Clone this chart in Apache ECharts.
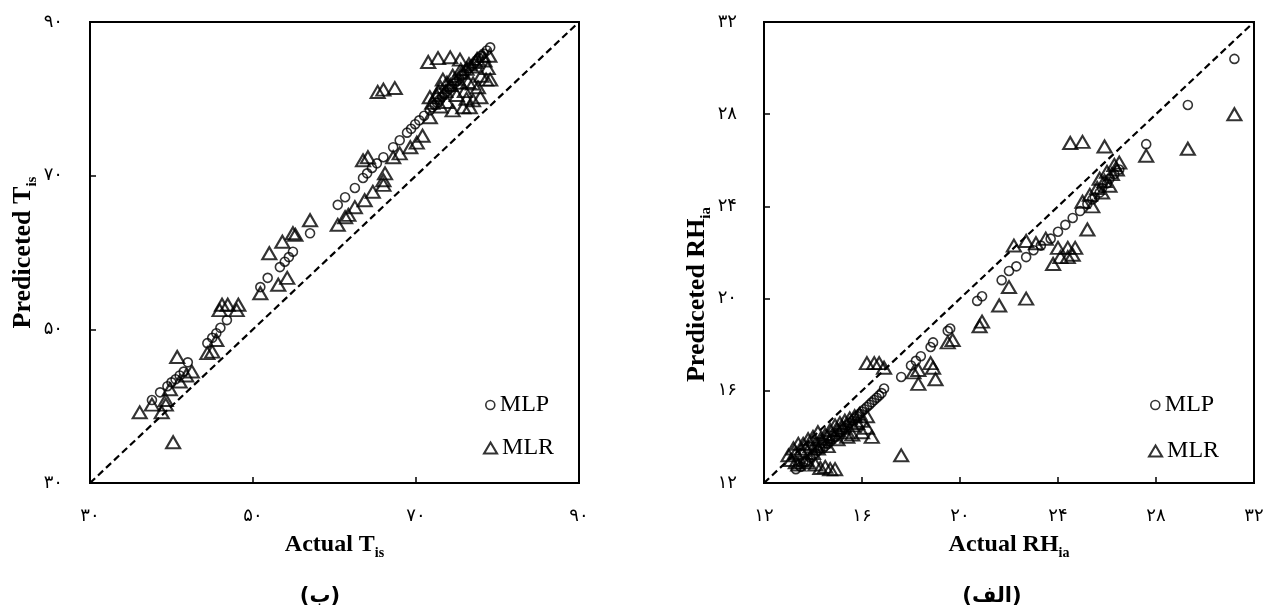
<!DOCTYPE html>
<html>
<head>
<meta charset="utf-8">
<script src="https://cdn.jsdelivr.net/npm/echarts@6/dist/echarts.min.js"></script>
<style>
  html, body { margin: 0; padding: 0; background: #fff; }
  #chart { width: 1268px; height: 613px; }
</style>
</head>
<body>
<div id="chart"></div>
<script>
// (ب) دمای Tis : [actual, predicted]
const mlpT = [
  [37.6, 40.8], [38.6, 41.8], [39.5, 42.6], [40.0, 43.1], [40.5, 43.5], [41.0, 44.0],
  [41.5, 44.5], [42.0, 45.7], [44.4, 48.2], [45.0, 48.9], [45.5, 49.5], [46.0, 50.2],
  [46.8, 51.2], [50.9, 55.5], [51.8, 56.7], [53.3, 58.1], [53.9, 58.8], [54.4, 59.4],
  [54.9, 60.1], [57.0, 62.5], [60.4, 66.2], [61.3, 67.2], [62.5, 68.4], [63.5, 69.7],
  [64.0, 70.3], [64.6, 71.0], [65.2, 71.6], [66.0, 72.4], [67.2, 73.7], [68.0, 74.6],
  [68.9, 75.6], [69.4, 76.1], [69.9, 76.7], [70.4, 77.2], [71.0, 77.8], [71.7, 78.5],
  [72.3, 79.2], [72.9, 79.9], [73.5, 80.6], [74.1, 81.3], [74.7, 82.0], [75.3, 82.6],
  [75.9, 83.3], [76.5, 84.0], [77.1, 84.6], [77.7, 85.3], [78.3, 85.9], [79.1, 86.7],
  [72.0, 78.9], [72.6, 79.5], [73.2, 80.3], [73.8, 81.0], [74.4, 81.6], [75.0, 82.3],
  [75.6, 83.0], [76.2, 83.6], [76.8, 84.3], [77.4, 85.0], [78.0, 85.6], [78.7, 86.3]
];
const mlrT = [
  [36.1, 39.2], [37.6, 40.2], [38.8, 39.2], [39.3, 40.8], [39.3, 40.2], [39.8, 42.2],
  [40.7, 46.4], [40.2, 35.3], [41.0, 43.2], [41.8, 44.0], [42.5, 44.5], [44.4, 46.9],
  [45.0, 47.1], [45.5, 48.6], [46.2, 53.2], [46.9, 53.2], [48.2, 53.2], [45.9, 52.5],
  [48.0, 52.5], [50.9, 54.7], [53.1, 55.8], [54.2, 56.7], [52.0, 59.9], [53.6, 61.4],
  [54.9, 62.5], [55.2, 62.3], [57.0, 64.2], [60.4, 63.6], [61.3, 64.6], [61.7, 64.9],
  [62.5, 65.9], [63.7, 66.8], [64.7, 67.9], [66.0, 68.8], [63.5, 72.0], [64.1, 72.4],
  [66.0, 69.4], [66.2, 70.3], [67.2, 72.4], [68.0, 72.9], [69.3, 73.7], [70.1, 74.3],
  [70.8, 75.2], [71.7, 77.6], [71.7, 80.2], [65.3, 80.9], [66.0, 81.2], [67.4, 81.4],
  [71.5, 84.8], [72.7, 85.3], [74.2, 85.4], [75.4, 85.1], [72.5, 80.5], [73.0, 81.5],
  [73.3, 82.5], [73.8, 82.1], [74.5, 78.5], [75.8, 78.9], [76.6, 78.9], [77.0, 79.8],
  [77.9, 80.2], [79.1, 82.5], [75.4, 82.1], [76.4, 82.2], [74.5, 83.0], [75.5, 83.8],
  [76.5, 84.5], [77.5, 85.2], [78.2, 85.6], [76.0, 81.0], [77.0, 82.0], [78.0, 83.0],
  [78.8, 84.0], [72.0, 79.5], [72.8, 80.8], [73.6, 81.0], [74.2, 81.8], [74.8, 82.6],
  [75.6, 83.4], [76.2, 83.9], [76.8, 84.2], [77.3, 84.8], [78.4, 85.0], [79.0, 85.6],
  [77.6, 81.5], [78.6, 82.5], [73.0, 79.0], [73.8, 79.6], [75.0, 80.5], [76.2, 80.0]
];
// (الف) رطوبت RHia
const mlpRH = [
  [13.3, 12.6], [13.5, 12.7], [13.7, 12.9], [13.9, 13.1], [14.1, 13.3], [14.3, 13.5],
  [14.5, 13.6], [14.7, 13.8], [14.9, 14.0], [15.1, 14.2], [15.3, 14.4], [15.5, 14.6],
  [15.7, 14.8], [15.9, 15.0], [16.1, 15.2], [16.3, 15.4], [16.5, 15.6], [16.7, 15.8],
  [16.9, 16.1], [17.6, 16.6], [18.0, 17.1], [18.2, 17.3], [18.4, 17.5], [18.8, 17.9],
  [18.9, 18.1], [19.5, 18.6], [19.6, 18.7], [20.7, 19.9], [20.9, 20.1], [21.7, 20.8],
  [22.0, 21.2], [22.3, 21.4], [22.7, 21.8], [23.0, 22.1], [23.3, 22.3], [23.7, 22.6],
  [24.0, 22.9], [24.3, 23.2], [24.6, 23.5], [24.9, 23.8], [25.2, 24.1], [25.5, 24.4],
  [25.8, 24.8], [26.1, 25.2], [27.6, 26.7], [29.3, 28.4], [31.2, 30.4],
  [13.4, 12.8], [13.6, 12.9], [13.8, 13.0], [14.0, 13.2], [14.2, 13.4], [14.4, 13.5],
  [14.6, 13.7], [14.8, 13.9], [15.0, 14.1], [15.2, 14.3], [15.4, 14.5], [15.6, 14.7],
  [15.8, 14.9], [16.0, 15.1], [16.2, 15.3], [16.4, 15.5], [16.6, 15.7], [16.8, 15.9],
  [25.4, 24.3], [25.7, 24.6], [26.0, 25.0], [26.3, 25.4], [26.5, 25.6]
];
const mlrRH = [
  [13.0, 13.2], [13.2, 13.5], [13.4, 13.7], [13.6, 13.7], [13.8, 13.9], [14.0, 14.0],
  [14.2, 14.2], [14.4, 13.8], [14.6, 14.0], [14.8, 14.1], [15.0, 14.3], [15.2, 14.4],
  [15.4, 14.2], [15.6, 14.5], [15.8, 14.6], [16.0, 14.7], [16.2, 14.9], [16.4, 14.0],
  [16.2, 14.4], [14.3, 12.65], [14.7, 12.6], [14.9, 12.6], [13.3, 12.9], [13.7, 13.0],
  [17.6, 13.2], [16.2, 17.2], [16.5, 17.2], [16.7, 17.2], [16.9, 17.0], [18.1, 16.8],
  [18.3, 16.9], [18.3, 16.3], [18.8, 17.2], [18.9, 17.0], [19.0, 16.5], [19.5, 18.1],
  [19.7, 18.2], [20.8, 18.8], [20.9, 19.0], [21.6, 19.7], [22.7, 20.0], [22.0, 20.5],
  [22.2, 22.3], [22.7, 22.5], [23.1, 22.4], [23.5, 22.6], [24.0, 22.2], [24.4, 22.2],
  [24.7, 22.2], [23.8, 21.5], [24.1, 21.8], [24.4, 21.8], [24.6, 21.9], [25.2, 23.0],
  [25.4, 24.0], [25.0, 24.2], [25.3, 24.5], [25.6, 24.8], [25.9, 25.1], [26.2, 25.4],
  [26.4, 25.6], [24.5, 26.75], [25.0, 26.8], [25.9, 26.6], [27.6, 26.2], [29.3, 26.5],
  [31.2, 28.0],
  [13.1, 13.0], [13.3, 13.3], [13.5, 13.4], [13.7, 13.5], [13.9, 13.6], [14.1, 13.7],
  [14.3, 13.9], [14.5, 14.1], [14.7, 14.3], [14.9, 14.5], [15.1, 14.6], [15.3, 14.7],
  [15.5, 14.8], [15.7, 14.9], [15.9, 15.0], [14.0, 13.3], [14.2, 13.5], [14.6, 13.6],
  [15.0, 13.9], [15.4, 14.0], [13.4, 12.8], [13.8, 12.9], [14.1, 12.8], [14.5, 12.7],
  [15.6, 14.1], [16.0, 14.2], [25.7, 25.2], [26.0, 25.5], [26.3, 25.8], [26.5, 25.9],
  [25.8, 24.6], [26.1, 24.9]
];
// خط y = x
const diagT = [[30, 30], [90, 90]];
const diagRH = [[12, 12], [32, 32]];
// محورها
const axisT = { min: 30, max: 90, step: 20 };
const axisRH = { min: 12, max: 32, step: 4 };

const faDigits = '۰۱۲۳۴۵۶۷۸۹';
function toFa(v) {
  return String(v).replace(/\d/g, d => faDigits[d]);
}

const serif = 'Liberation Serif';
function nameRich(size, sub) {
  return {
    m: { fontFamily: serif, fontSize: size, fontWeight: 'bold', color: '#000', verticalAlign: 'bottom', padding: [0, 0, 3, 0] },
    s: { fontFamily: serif, fontSize: sub, fontWeight: 'bold', color: '#000', verticalAlign: 'bottom' }
  };
}

function makeAxis(idx, ax, name, isY, extra) {
  return Object.assign({
    gridIndex: idx,
    type: 'value',
    min: ax.min,
    max: ax.max,
    interval: ax.step,
    axisLine: { show: true, lineStyle: { color: '#000', width: 2 } },
    axisTick: { show: true, inside: true, length: 6, lineStyle: { color: '#000', width: 1.5 } },
    axisLabel: {
      formatter: toFa, showMinLabel: true, showMaxLabel: true,
      margin: isY ? 27 : 24, fontSize: 18, fontFamily: 'DejaVu Sans', color: '#000'
    },
    splitLine: { show: false },
    name: name,
    nameLocation: 'middle',
    nameGap: isY ? 48 : 50,
    nameTextStyle: { rich: isY ? nameRich(26, 15) : nameRich(24, 14) }
  }, extra || {});
}

const circleStyle = { color: 'rgba(0,0,0,0)', borderColor: '#000', borderWidth: 1.6 };
const triStyle = { color: 'rgba(0,0,0,0)', borderColor: '#000', borderWidth: 2.1 };

function scatter(name, data, idx, symbol, size, style) {
  return {
    name: name, type: 'scatter', xAxisIndex: idx, yAxisIndex: idx,
    data: data, symbol: symbol, symbolSize: size, itemStyle: style,
    emphasis: { disabled: true }, animation: false
  };
}
function diag(data, idx) {
  return {
    name: 'y=x', type: 'line', xAxisIndex: idx, yAxisIndex: idx, data: data,
    symbol: 'none', lineStyle: { color: '#000', width: 2.2, type: [7, 4] },
    animation: false, silent: true, z: 1
  };
}
function legendItem(name, icon, w, h, left, top, style) {
  return {
    data: [name], icon: icon, itemWidth: w, itemHeight: h, left: left, top: top,
    padding: 0, selectedMode: false, itemStyle: style,
    textStyle: { fontFamily: serif, fontSize: 24, color: '#000', lineHeight: 26 }
  };
}

const chart = echarts.init(document.getElementById('chart'), null, { renderer: 'canvas' });
chart.setOption({
  backgroundColor: '#fff',
  animation: false,
  grid: [
    { left: 90, top: 22, width: 489, height: 461, show: true, borderColor: '#000', borderWidth: 2 },
    { left: 764, top: 22, width: 490, height: 461, show: true, borderColor: '#000', borderWidth: 2 }
  ],
  xAxis: [
    makeAxis(0, axisT, '{m|Actual T}{s|is}', false),
    makeAxis(1, axisRH, '{m|Actual RH}{s|ia}', false)
  ],
  yAxis: [
    makeAxis(0, axisT, '{m|Prediceted T}{s|is}', true),
    makeAxis(1, axisRH, '{m|Prediceted RH}{s|ia}', true,
      { nameTextStyle: { rich: nameRich(26, 15), padding: [0, 84, 0, 0] } })
  ],
  legend: [
    legendItem('MLP', 'circle', 9, 9, 485, 392, circleStyle),
    legendItem('MLR', 'triangle', 13, 11, 483, 435, triStyle),
    legendItem('MLP', 'circle', 9, 9, 1150, 392, circleStyle),
    legendItem('MLR', 'triangle', 13, 11, 1148, 438, triStyle)
  ],
  series: [
    diag(diagT, 0),
    scatter('MLP', mlpT, 0, 'circle', 9, circleStyle),
    scatter('MLR', mlrT, 0, 'triangle', [14, 12], triStyle),
    diag(diagRH, 1),
    scatter('MLP', mlpRH, 1, 'circle', 9, circleStyle),
    scatter('MLR', mlrRH, 1, 'triangle', [14, 12], triStyle)
  ],
  graphic: [
    { type: 'text', x: 320, y: 597, style: { text: '(ب)', align: 'center', verticalAlign: 'middle', font: 'bold 21px "DejaVu Sans"', fill: '#000' } },
    { type: 'text', x: 992, y: 597, style: { text: '(الف)', align: 'center', verticalAlign: 'middle', font: 'bold 21px "DejaVu Sans"', fill: '#000' } }
  ]
});
</script>
</body>
</html>
